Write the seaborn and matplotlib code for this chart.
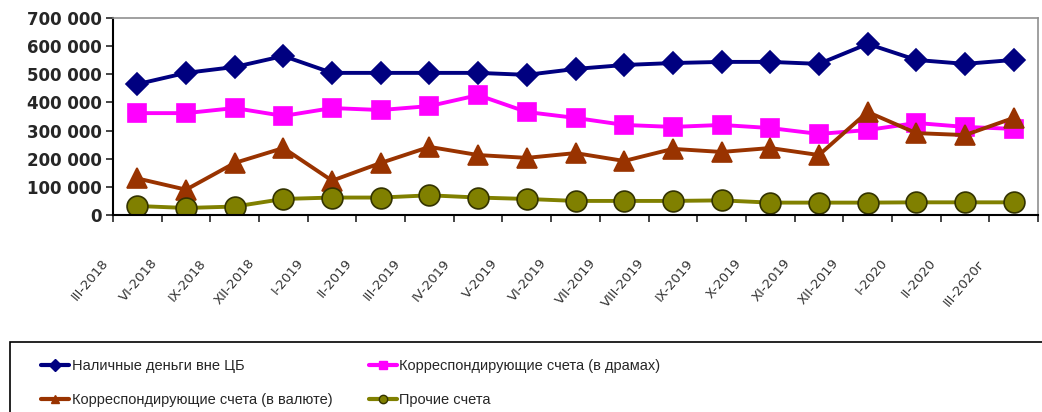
import matplotlib
matplotlib.use("Agg")
import matplotlib.pyplot as plt
import matplotlib.ticker as mticker
import matplotlib.transforms as mtrans
from matplotlib import font_manager
from matplotlib.patches import Rectangle
import numpy as np
import pandas as pd
import seaborn as sns

# periods (x axis)
periods = ["III-2018", "VI-2018", "IX-2018", "XII-2018", "I-2019", "II-2019", "III-2019",
           "IV-2019", "V-2019", "VI-2019", "VII-2019", "VIII-2019", "IX-2019", "X-2019",
           "XI-2019", "XII-2019", "I-2020", "II-2020", "III-2020г"]

# series values
cash = [465000, 505000, 526000, 565000, 505000, 505000, 505000, 505000, 498000, 519000,
        533000, 540000, 544000, 544000, 537000, 608000, 551000, 537000, 551000]
corr_dram = [362000, 362000, 380000, 352000, 380000, 373000, 387000, 426000, 366000, 345000,
             320000, 313000, 320000, 309000, 288000, 302000, 327000, 313000, 306000]
corr_fx = [130000, 90000, 185000, 238000, 122000, 185000, 242000, 213000, 203000, 220000,
           192000, 235000, 224000, 238000, 213000, 366000, 291000, 284000, 345000]
other = [32000, 25000, 30000, 57000, 62000, 62000, 70000, 62000, 57000, 50000,
         50000, 50000, 52000, 44000, 44000, 44000, 45000, 45000, 45000]

names = ["Наличные деньги вне ЦБ", "Корреспондирующие счета (в драмах)",
         "Корреспондирующие счета (в валюте)", "Прочие счета"]

sns.set_style("white")
plt.rcParams['font.family'] = ['DejaVu Sans']

# narrow font for the legend if there is one
avail = {f.name for f in font_manager.fontManager.ttflist}
if "Liberation Sans Narrow" in avail:
    leg_prop = {"family": "Liberation Sans Narrow", "size": 11.5}
else:
    leg_prop = {"family": ["Liberation Sans", "DejaVu Sans"], "size": 10.5, "stretch": "condensed"}

fig = plt.figure(figsize=(10.42, 4.12), dpi=100)
ax = fig.add_axes([113/1042, 1-215/412, (1038-113)/1042, (215-18)/412])

x = np.arange(len(periods))
styles = [
    (cash, "#000080", "D", 11, "#000080"),
    (corr_dram, "#FF00FF", "s", 13.5, "#FF00FF"),
    (corr_fx, "#993300", "^", 15, "#993300"),
    (other, "#808000", "o", 15, "#333300"),
]
for (vals, col, mk, ms, ec), name in zip(styles, names):
    df = pd.DataFrame({"x": x, "y": vals})
    sns.lineplot(data=df, x="x", y="y", ax=ax, color=col, lw=2.8, marker=mk,
                 markersize=ms, markeredgecolor=ec, markeredgewidth=1.2,
                 sort=False, label=name, legend=False)

ax.set_xlim(-0.5, len(periods) - 0.5)
ax.set_ylim(0, 700000)
ax.set_xlabel("")
ax.set_ylabel("")

ax.yaxis.set_major_locator(mticker.MultipleLocator(100000))
ax.yaxis.set_major_formatter(mticker.FuncFormatter(lambda v, p: f"{int(v):,}".replace(",", " ")))
for t in ax.get_yticklabels():
    t.set_fontweight("bold")
ax.tick_params(axis="y", labelsize=12, length=5, width=1.2, direction="out", left=True, pad=3)

# category ticks at boundaries, labels in centres
ax.set_xticks(x)
ax.set_xticklabels(periods, rotation=50, ha="right", fontsize=9.5, color="#333333")
ax.set_xticks(np.arange(-0.5, len(periods)), minor=True)
ax.tick_params(axis="x", which="major", length=0, pad=30)
ax.tick_params(axis="x", which="minor", length=5, width=1.2, direction="out", bottom=True)
offset = mtrans.ScaledTranslation(-26/100, 0, fig.dpi_scale_trans)
for t in ax.get_xticklabels():
    t.set_transform(t.get_transform() + offset)

for s in ["left", "bottom"]:
    ax.spines[s].set_color("black")
    ax.spines[s].set_linewidth(1.5)
for s in ["top", "right"]:
    ax.spines[s].set_color("#909090")
    ax.spines[s].set_linewidth(1.2)

# legend box
fig.patches.append(Rectangle((10/1042, -0.1), 1.1, 1-342/412+0.1, transform=fig.transFigure,
                             fill=False, edgecolor="black", lw=1.2))
order = [0, 2, 1, 3]
leg_handles = []
for (vals, col, mk, ms, ec) in styles:
    leg_handles.append(plt.Line2D([], [], color=col, lw=3, marker=mk, markersize=6,
                                  markeredgecolor=ec))
leg = fig.legend([leg_handles[i] for i in order], [names[i] for i in order],
                 loc="upper left", bbox_to_anchor=(28/1042, 1-346/412), ncol=2, frameon=False,
                 handlelength=1.9, handletextpad=0.2, columnspacing=2.5,
                 labelspacing=1.35, prop=leg_prop)

fig.savefig("out.png", dpi=100)
